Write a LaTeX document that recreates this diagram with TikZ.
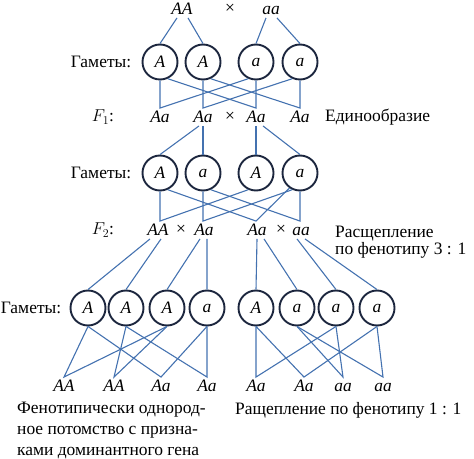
\documentclass[tikz,border=0pt]{standalone}
\usepackage{fontspec}
\setmainfont{Liberation Serif}
\usepackage{xcolor}
\usepackage{tikz}
\definecolor{linea}{RGB}{68,114,176}
\definecolor{bordo}{RGB}{28,38,62}

\begin{document}
\begin{tikzpicture}[x=1bp, y=-1bp, font=\fontsize{17.5}{17}\selectfont,
        gamete/.style={circle, draw=bordo, line width=1.9bp, minimum size=35bp, inner sep=0pt},
        geno/.style={inner sep=3bp, text height=11.5bp, text depth=0bp},
        cross/.style={inner sep=0pt},
        link/.style={draw=linea, line width=1.1bp}]
        \useasboundingbox (0,0) rectangle (474,459);

        % parents
        \node[geno] (P1) at (182,9) {\textit{AA}};
        \node[cross] (x0) at (230,9) {×};
        \node[geno] (P2) at (271,9) {\textit{aa}};

        \node (lab1) at (101,62) {Гаметы:};
        \node[gamete] (g1) at (160,62) {\textit{A}};
        \node[gamete] (g2) at (203,62) {\textit{A}};
        \node[gamete] (g3) at (256,62) {\textit{a}};
        \node[gamete] (g4) at (300,62) {\textit{a}};

        \draw[link] ([xshift=-5bp]P1.south) -- (g1.north);
        \draw[link] ([xshift=6bp]P1.south) -- (g2.north);
        \draw[link] ([xshift=-5bp]P2.south) -- (g3.north);
        \draw[link] ([xshift=6bp]P2.south) -- (g4.north);

        % F1
        \node (lf1) at (103,117) {$F_1$:};
        \node[geno] (f1) at (160,117) {\textit{Aa}};
        \node[geno] (f2) at (203,117) {\textit{Aa}};
        \node[cross] (x1) at (230,117) {×};
        \node[geno] (f3) at (256,117) {\textit{Aa}};
        \node[geno] (f4) at (300,117) {\textit{Aa}};
        \node[anchor=west, inner sep=0pt] (ed) at (325,117) {Единообразие};

        \draw[link] (g1.south) -- (f1.north) -- (g3.-115);
        \draw[link] (g2.south) -- (f2.north) -- (g4.-115);
        \draw[link] (g1.-65) -- (f3.north) -- (g3.south);
        \draw[link] (g2.-65) -- (f4.north) -- (g4.south);

        \node (lab2) at (101,173) {Гаметы:};
        \node[gamete] (h1) at (160,173) {\textit{A}};
        \node[gamete] (h2) at (203,173) {\textit{a}};
        \node[gamete] (h3) at (256,173) {\textit{A}};
        \node[gamete] (h4) at (300,173) {\textit{a}};

        \draw[link] ([xshift=-4bp]f2.south) -- (h1.north);
        \draw[link] (f2.south) -- (h2.north);
        \draw[link] (f3.south) -- (h3.north);
        \draw[link] ([xshift=7bp]f3.south) -- (h4.north);

        % F2
        \node (lf2) at (103,230) {$F_2$:};
        \node[geno] (s1) at (158,230) {\textit{AA}};
        \node[cross] (x2) at (181,230) {×};
        \node[geno] (s2) at (204,230) {\textit{Aa}};
        \node[geno] (s3) at (257,230) {\textit{Aa}};
        \node[cross] (x3) at (281,230) {×};
        \node[geno] (s4) at (301,230) {\textit{aa}};
        \node[anchor=north west, inner sep=0pt, align=left] (ra) at (335,226) {Расщепление\\по фенотипу 3 : 1};

        \draw[link] (h1.south) -- (s1.north -| h1.south) -- (h3.-115);
        \draw[link] (h2.south) -- (s2.north -| h2.south) -- (h4.-115);
        \draw[link] (h1.-65) -- (s3.north -| h3.south) -- (h4.-125);
        \draw[link] (h2.-65) -- (s4.north -| h4.south) -- (h4.south);

        \node (lab3) at (31,308) {Гаметы:};
        \node[gamete] (k1) at (88,308) {\textit{A}};
        \node[gamete] (k2) at (126,308) {\textit{A}};
        \node[gamete] (k3) at (167,308) {\textit{A}};
        \node[gamete] (k4) at (207,308) {\textit{a}};
        \node[gamete] (k5) at (256,308) {\textit{A}};
        \node[gamete] (k6) at (297,308) {\textit{a}};
        \node[gamete] (k7) at (336,308) {\textit{a}};
        \node[gamete] (k8) at (377,308) {\textit{a}};

        \draw[link] ([xshift=-8bp]s1.south) -- (k1.north);
        \draw[link] ([xshift=3bp]s1.south) -- (k2.north);
        \draw[link] ([xshift=-4bp]s2.south) -- (k3.north);
        \draw[link] ([xshift=3bp]s2.south) -- (k4.north);
        \draw[link] (s3.south) -- (k5.north);
        \draw[link] ([xshift=7bp]s3.south) -- (k6.north);
        \draw[link] ([xshift=-4bp]s4.south) -- (k7.north);
        \draw[link] ([xshift=4bp]s4.south) -- (k8.north);

        % offspring
        \node[geno] (o1) at (64,386) {\textit{AA}};
        \node[geno] (o2) at (114,386) {\textit{AA}};
        \node[geno] (o3) at (161,386) {\textit{Aa}};
        \node[geno] (o4) at (207,386) {\textit{Aa}};
        \node[geno] (o5) at (256,386) {\textit{Aa}};
        \node[geno] (o6) at (304,386) {\textit{Aa}};
        \node[geno] (o7) at (343,386) {\textit{aa}};
        \node[geno] (o8) at (383,386) {\textit{aa}};

        \draw[link] (k1.south) -- (o1.north) -- (k3.south);
        \draw[link] (k2.south) -- (o2.north) -- (k3.south);
        \draw[link] (k1.south) -- (o3.north) -- (k4.south);
        \draw[link] (k2.south) -- (o4.north) -- (k4.south);
        \draw[link] (k5.south) -- (o5.north) -- (k7.south);
        \draw[link] (k5.south) -- (o6.north) -- (k8.south);
        \draw[link] (k6.south) -- (o7.north) -- (k7.south);
        \draw[link] (k6.south) -- (o8.north) -- (k8.south);

        \node[anchor=north west, inner sep=0pt, align=left, font=\fontsize{17.5}{21}\selectfont] (om) at (17,402) {Фенотипически однород-\\ное потомство с призна-\\ками доминантного гена};
        \node[anchor=base west, inner sep=0pt] (sc) at (235,414) {Ращепление по фенотипу 1 : 1};
    \end{tikzpicture}
\end{document}
